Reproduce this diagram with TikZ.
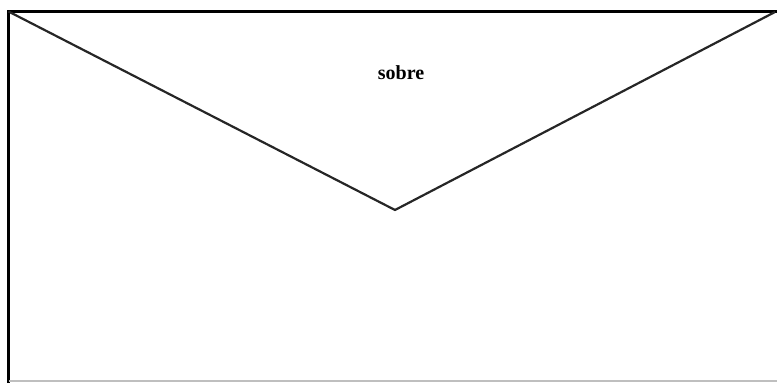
\documentclass[tikz,border=0pt]{standalone}
\usepackage{fontspec}
\setmainfont{Liberation Serif}
\begin{document}
\begin{tikzpicture}[x=0.5pt,y=-0.5pt]
\useasboundingbox (0,0) rectangle (777,383);
\coordinate (TL) at (8.5,11.5);
\coordinate (TR) at (777,11.5);
\coordinate (FR) at (775,12);
\coordinate (BL) at (8.5,383);
\coordinate (BLb) at (8.5,381);
\coordinate (BR) at (777,381);
\coordinate (V) at (395,210);
% envelope edges
\draw[line width=1.6pt] (BL)-- (TL) -- (TR);
\draw[line width=0.6pt,black!25] (BLb)-- (BR);
% flap
\draw[line width=1.1pt,black!85] (TL)-- (V) -- (FR);
\node[font=\bfseries] (label) at (401,73) {sobre};
\end{tikzpicture}
\end{document}
